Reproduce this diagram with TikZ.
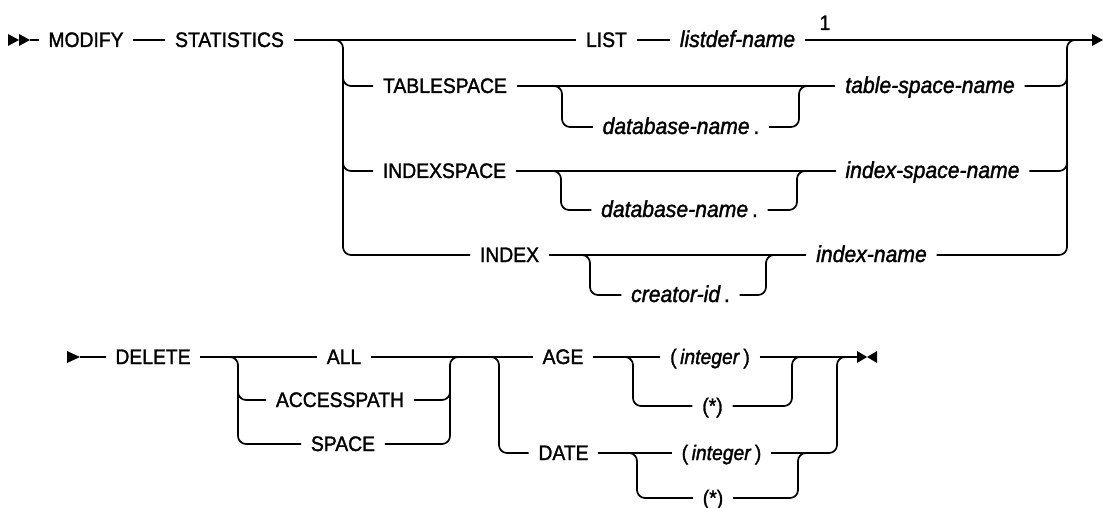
\documentclass[tikz,border=0pt]{standalone}
\usepackage{fontspec}
\setmainfont{Liberation Sans}[FakeStretch=0.92,FakeBold=1.5]
\begin{document}
\begin{tikzpicture}[x=1pt,y=-1pt,line width=1.7pt,
  kw/.style={inner xsep=9pt,inner ysep=0pt,text height=14pt,text depth=0pt,font=\fontsize{21}{24}\selectfont},
  var/.style={kw,font=\fontsize{23}{26}\selectfont\itshape},
  rc/.style={rounded corners=8pt},
  tip/.style={fill=black,draw=none}]
\useasboundingbox (0,0) rectangle (1103,508);
% ---------- top diagram ----------
\coordinate (s1) at (30,40);
\fill[tip] (8,34) -- (19,40) -- (8,46) -- cycle;
\fill[tip] (19,34) -- (30,40) -- (19,46) -- cycle;
\node[kw] (modify) at (86,40) {MODIFY};
\node[kw] (stat) at (229.5,40) {STATISTICS};
\node[kw] (list) at (606.5,40) {LIST};
\node[var] (ldn) at (737.5,40) {listdef-name};
\node[kw,anchor=base] (fn) at (825,30) {1};
\node[kw] (ts) at (445,86) {TABLESPACE};
\node[var] (db1) at (681,127) {database-name\,{\upshape .}};
\node[var] (tsn) at (930,86) {table-space-name};
\node[kw] (is) at (444.5,171) {INDEXSPACE};
\node[var] (db2) at (679.5,210) {database-name\,{\upshape .}};
\node[var] (isn) at (932.5,171) {index-space-name};
\node[kw] (ix) at (509.5,255) {INDEX};
\node[var] (cid) at (680.5,295) {creator-id\,{\upshape .}};
\node[var] (ixn) at (871.5,255) {index-name};
\coordinate (endtop) at (1093,40);
\fill[tip] (1092,34) -- (1103,40) -- (1092,46) -- cycle;

\draw (s1) -- (modify.west);
\draw (modify.east) -- (stat.west);
\draw (stat.east) -- (list.west);
\draw (list.east) -- (ldn.west);
\draw (ldn.east) -- (endtop);
% left bus
\draw[rc] (333,40) -- (343,40) -- (343,255) -- (ix.west);
\draw[rc] (343,76) -- (343,86) -- (ts.west);
\draw[rc] (343,161) -- (343,171) -- (is.west);
% right bus
\draw[rc] (ixn.east) -- (1067,255) -- (1067,40) -- (1077,40);
\draw[rc] (tsn.east) -- (1067,86) -- (1067,76);
\draw[rc] (isn.east) -- (1067,171) -- (1067,161);
% TABLESPACE
\draw (ts.east) -- (tsn.west);
\draw[rc] (553,86) -- (562,86) -- (562,127) -- (db1.west);
\draw[rc] (db1.east) -- (799,127) -- (799,86) -- (808,86);
% INDEXSPACE
\draw (is.east) -- (isn.west);
\draw[rc] (552,171) -- (561,171) -- (561,210) -- (db2.west);
\draw[rc] (db2.east) -- (797,210) -- (797,171) -- (806,171);
% INDEX
\draw (ix.east) -- (ixn.west);
\draw[rc] (581,255) -- (590,255) -- (590,295) -- (cid.west);
\draw[rc] (cid.east) -- (766,295) -- (766,255) -- (775,255);

% ---------- bottom diagram ----------
\coordinate (s2) at (80,357);
\fill[tip] (67,351) -- (80,357) -- (67,363) -- cycle;
\node[kw] (del) at (153,357) {DELETE};
\node[kw] (all) at (344,357) {ALL};
\node[kw] (ap) at (340,400) {ACCESSPATH};
\node[kw] (sp) at (343,444) {SPACE};
\node[kw] (age) at (563,357) {AGE};
\node[kw] (date) at (563.5,453) {DATE};
\node[kw] (ai) at (710,357) {(\,\textit{integer}\,)};
\node[kw] (as) at (712.5,406) {(*)};
\node[kw] (di) at (721.5,453) {(\,\textit{integer}\,)};
\node[kw] (ds) at (713,498) {(*)};
\coordinate (endb) at (857,357);
\fill[tip] (857,351) -- (867,357) -- (857,363) -- cycle;
\fill[tip] (877,351) -- (867,357) -- (877,363) -- cycle;

\draw (s2) -- (del.west);
\draw (del.east) -- (all.west);
\draw[rc] (229,357) -- (238,357) -- (238,444) -- (sp.west);
\draw[rc] (238,390) -- (238,400) -- (ap.west);
\draw (all.east) -- (age.west);
\draw[rc] (ap.east) -- (450,400) -- (450,390);
\draw[rc] (sp.east) -- (450,444) -- (450,357) -- (459,357);
\draw[rc] (490,357) -- (499,357) -- (499,453) -- (date.west);
\draw (age.east) -- (ai.west);
\draw[rc] (624,357) -- (633,357) -- (633,406) -- (as.west);
\draw[rc] (as.east) -- (792,406) -- (792,357) -- (801,357);
\draw (ai.east) -- (endb);
\draw (date.east) -- (di.west);
\draw[rc] (628,453) -- (637,453) -- (637,498) -- (ds.west);
\draw[rc] (ds.east) -- (798,498) -- (798,453) -- (807,453);
\draw[rc] (di.east) -- (837,453) -- (837,357) -- (846,357);
\end{tikzpicture}
\end{document}
